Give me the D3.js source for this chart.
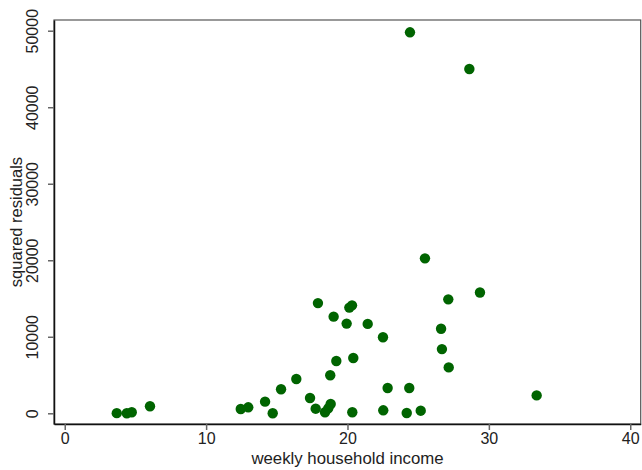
<!DOCTYPE html>
<html>
<head>
<meta charset="utf-8">
<script src="https://cdn.jsdelivr.net/npm/d3@7"></script>
<style>
  html, body { margin: 0; padding: 0; background: #fff; }
  svg { display: block; font-family: "Liberation Sans", Arial, sans-serif; }
</style>
</head>
<body>
<svg id="chart" width="642" height="470"></svg>
<script>
// weekly household income (x) vs squared residuals (y)
const income = [3.68, 4.39, 4.74, 6.03, 12.45, 12.98, 14.17, 14.71, 15.30, 16.38,
  17.35, 17.75, 17.91, 18.41, 18.64, 18.81, 18.78, 19.02, 19.21, 19.94,
  20.13, 20.32, 20.34, 20.41, 21.43, 22.51, 22.53, 22.84, 24.19, 24.37,
  24.42, 25.18, 25.48, 26.62, 26.68, 27.13, 27.16, 28.62, 29.37, 33.38];
const sqResid = [20, 10, 130, 920, 560, 780, 1520, 10, 3140, 4480,
  2000, 600, 14400, 130, 650, 1220, 4970, 12630, 6840, 11720,
  13810, 14110, 130, 7220, 11680, 9940, 390, 3310, 40, 3310,
  49790, 340, 20250, 11050, 8390, 14890, 6000, 44990, 15790, 2340];
const xTicks = [0, 10, 20, 30, 40];
const yTicks = [0, 10000, 20000, 30000, 40000, 50000];
const xTitle = "weekly household income";
const yTitle = "squared residuals";

const svg = d3.select("#chart");
const mLeft = 54, mRight = 640.7, mTop = 20, mBottom = 424;

const x = d3.scaleLinear().domain([-0.76, 40.74]).range([mLeft, mRight]);
const y = d3.scaleLinear().domain([-1400, 51400]).range([mBottom, mTop]);

// frame
svg.append("rect")
  .attr("x", mLeft).attr("y", mTop)
  .attr("width", mRight - mLeft).attr("height", mBottom - mTop)
  .attr("fill", "none").attr("stroke", "#555").attr("stroke-width", 1.2);

// x axis
const xAxis = svg.append("g")
  .attr("transform", `translate(0,${mBottom})`)
  .call(d3.axisBottom(x).tickValues(xTicks).tickSizeInner(6).tickSizeOuter(0)
    .tickPadding(3).tickFormat(d3.format("d")));
xAxis.select(".domain").attr("stroke", "#111").attr("stroke-width", 1.5);
xAxis.selectAll(".tick line").attr("stroke", "#666").attr("stroke-width", 1.5);
xAxis.selectAll("text").attr("font-size", 16).attr("fill", "#222")
  .attr("font-family", "Liberation Sans, Arial, sans-serif");

// y axis
const yAxis = svg.append("g")
  .attr("transform", `translate(${mLeft},0)`)
  .call(d3.axisLeft(y).tickValues(yTicks).tickSizeInner(6).tickSizeOuter(0)
    .tickPadding(0).tickFormat(d3.format("d")));
yAxis.select(".domain").attr("stroke", "#111").attr("stroke-width", 1.5);
yAxis.selectAll(".tick line").attr("stroke", "#666").attr("stroke-width", 1.5);
yAxis.selectAll("text")
  .attr("font-size", 16).attr("fill", "#222")
  .attr("font-family", "Liberation Sans, Arial, sans-serif")
  .attr("text-anchor", "middle")
  .attr("x", 0).attr("dy", 0)
  .attr("transform", "translate(-16,0) rotate(-90)");

// titles
svg.append("text")
  .attr("x", (x(0) + x(40)) / 2).attr("y", 464)
  .attr("text-anchor", "middle").attr("font-size", 16.8).attr("fill", "#222")
  .text(xTitle);
svg.append("text")
  .attr("transform", `translate(22,${(y(0) + y(50000)) / 2}) rotate(-90)`)
  .attr("text-anchor", "middle").attr("font-size", 16.5).attr("fill", "#222")
  .text(yTitle);

// points
svg.append("g").selectAll("circle")
  .data(income.map((d, i) => ({ x: d, y: sqResid[i] })))
  .join("circle")
  .attr("cx", d => x(d.x)).attr("cy", d => y(d.y))
  .attr("r", 5.2)
  .attr("fill", "#006400");
</script>
</body>
</html>
